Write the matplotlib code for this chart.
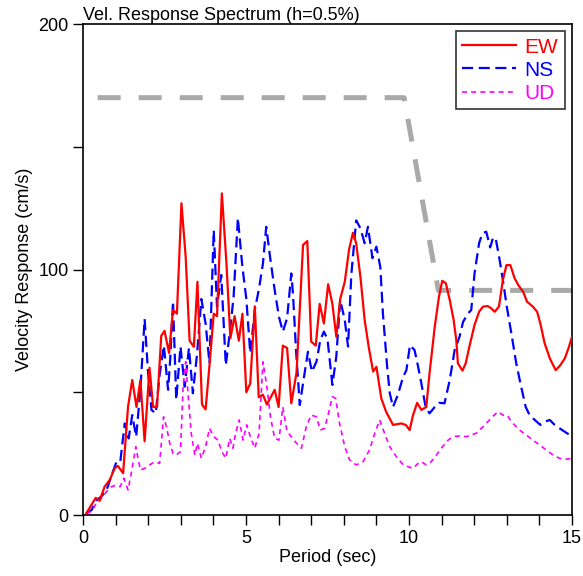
import matplotlib
matplotlib.use('Agg')
from matplotlib import pyplot as plt
from matplotlib.ticker import MultipleLocator

plt.rcParams['font.family'] = ['Liberation Sans', 'DejaVu Sans']

# EW component (period sec, velocity cm/s)
ew_t = [0.1, 0.39, 0.51, 0.66, 0.82, 0.97, 1.07, 1.23, 1.38, 1.51, 1.64, 1.76, 1.89,
        2.04, 2.15, 2.27, 2.40, 2.50, 2.64, 2.76, 2.88, 3.02, 3.15, 3.27, 3.40, 3.51,
        3.65, 3.76, 3.88, 4.01, 4.11, 4.26, 4.40, 4.52, 4.65, 4.78, 4.89, 5.01, 5.13,
        5.27, 5.39, 5.52, 5.64, 5.88, 6.0, 6.13, 6.26, 6.39, 6.55, 6.75, 6.88, 7.0,
        7.14, 7.26, 7.39, 7.52, 7.65, 7.77, 7.89, 8.03, 8.16, 8.28, 8.38, 8.51, 8.64,
        8.77, 8.90, 9.0, 9.15, 9.30, 9.51, 9.76, 9.90, 10.02, 10.12, 10.25, 10.38,
        10.53, 10.63, 10.79, 10.92, 11.02, 11.13, 11.25, 11.37, 11.45, 11.50, 11.64,
        11.74, 11.86, 12.01, 12.15, 12.27, 12.42, 12.52, 12.63, 12.76, 12.88, 12.99,
        13.11, 13.24, 13.37, 13.50, 13.62, 13.80, 13.93, 14.03, 14.16, 14.32, 14.5,
        14.64, 14.78, 14.91, 15.0]
ew_v = [0.7, 7, 5.8, 11.5, 14.3, 19, 20, 17, 44, 55, 44, 55, 30,
        60, 44, 44, 73, 75, 66, 83.5, 82, 127, 105, 71, 68.5, 95,
        45, 43, 61, 82, 81, 131, 102.5, 72, 81, 71, 82, 50, 53.6,
        85, 48, 49, 45, 51, 44, 69, 68, 45.5, 58, 110, 111.6, 70.6,
        69, 86, 78, 94, 86, 72.6, 88, 95, 108, 115, 110.7, 97, 79.4,
        68, 58.4, 60.4, 47.5, 42, 36.7, 37.3, 36.7, 34.6, 40.5, 45.7, 42.8,
        44, 57.7, 76.7, 89, 95.4, 94.4, 87.6, 79.4, 71.3, 61.8, 58.8,
        61.8, 69, 77.4, 82.8, 84.9, 85.1, 84.2, 82.8, 84.9, 95.7, 101.8,
        101.8, 96.4, 93.3, 91, 86.9, 84.9, 82.8, 78, 70, 63.8, 59,
        61, 63.8, 68.6, 72.6]

# NS component
ns_t = [0.1, 0.26, 0.41, 0.56, 0.72, 0.87, 1.02, 1.14, 1.28, 1.40, 1.51, 1.63, 1.76,
        1.89, 1.99, 2.1, 2.23, 2.35, 2.48, 2.61, 2.68, 2.76, 2.86, 2.99, 3.12, 3.25,
        3.37, 3.50, 3.63, 3.76, 3.88, 4.01, 4.11, 4.24, 4.38, 4.50, 4.62, 4.75, 4.89,
        5.01, 5.13, 5.27, 5.40, 5.52, 5.62, 5.75, 5.88, 6.01, 6.13, 6.26, 6.39, 6.44,
        6.54, 6.65, 6.78, 6.90, 7.02, 7.16, 7.28, 7.39, 7.50, 7.65, 7.77, 7.89, 8.03,
        8.13, 8.23, 8.38, 8.51, 8.64, 8.74, 8.88, 9.0, 9.12, 9.20, 9.33, 9.41, 9.51,
        9.66, 9.82, 9.92, 10.03, 10.17, 10.28, 10.38, 10.51, 10.63, 10.79, 10.92,
        11.09, 11.25, 11.40, 11.55, 11.66, 11.81, 11.91, 12.01, 12.15, 12.25, 12.37,
        12.49, 12.58, 12.66, 12.78, 12.88, 13.0, 13.14, 13.29, 13.44, 13.58, 13.70,
        13.86, 14.03, 14.16, 14.32, 14.47, 14.62, 14.78, 14.93, 15.0]
ns_v = [0.5, 2, 6, 7.5, 10, 16, 21.4, 21.4, 37.3, 31.2, 40.7, 31.9, 51,
        79.8, 59, 42.8, 41.4, 57, 69, 51, 64.5, 87, 47, 68.6, 52.3, 68,
        49.6, 65.9, 88, 78, 61.8, 116, 84.9, 97.8, 61, 74, 89, 121, 101,
        88, 66, 83.5, 92.3, 102.5, 117.4, 103.9, 91.6, 80.8, 74.7, 80.1, 98.4, 90.3,
        65.9, 44.8, 56.3, 66.5, 58.4, 62.4, 71.3, 74.7, 71.6, 53, 64.5, 87.6, 79.4,
        68.6, 97.8, 120, 116.8, 110.7, 117.4, 104.6, 109.3, 101, 82.1, 60.4, 49.6, 44,
        49, 56.3, 59, 69.2, 67.2, 60.4, 53.6, 44, 41.4, 44, 45.7,
        45.5, 55, 67.2, 72.6, 78.7, 82.1, 83.5, 98.4, 110.7, 114.7, 115.4,
        109, 113, 112.7, 103.9, 95.7, 84.9, 74, 61.8, 52.3, 44, 40.7,
        38.7, 36.7, 38, 38.7, 36.7, 35.3, 33.9, 32.6, 31.9]

# UD component
ud_t = [0.1, 0.26, 0.41, 0.56, 0.72, 0.87, 1.02, 1.14, 1.25, 1.38, 1.48, 1.62, 1.76,
        1.89, 2.04, 2.2, 2.35, 2.47, 2.56, 2.66, 2.76, 2.86, 2.99, 3.07, 3.15, 3.22,
        3.32, 3.43, 3.51, 3.63, 3.76, 3.88, 4.01, 4.14, 4.26, 4.38, 4.50, 4.60, 4.68,
        4.79, 4.91, 5.02, 5.13, 5.27, 5.40, 5.52, 5.64, 5.75, 5.88, 6.01, 6.13, 6.26,
        6.39, 6.55, 6.70, 6.85, 7.0, 7.16, 7.28, 7.41, 7.53, 7.65, 7.75, 7.87, 8.03,
        8.18, 8.38, 8.59, 8.79, 8.95, 9.10, 9.25, 9.41, 9.61, 9.82, 9.97, 10.12,
        10.28, 10.38, 10.53, 10.68, 10.84, 10.99, 11.20, 11.35, 11.55, 11.76, 11.91,
        12.06, 12.22, 12.37, 12.52, 12.73, 12.88, 13.0, 13.19, 13.39, 13.60, 13.80,
        14.01, 14.21, 14.42, 14.62, 14.82, 15.0]
ud_v = [0.5, 1.5, 4.8, 6.8, 9.5, 11.5, 12.2, 11.5, 15, 10.2, 17, 27.8, 18.3,
        19, 20.4, 21.7, 21, 40, 36, 29.2, 25.1, 24.4, 25.8, 52.3, 62.4, 49.6,
        33.3, 24.4, 29.2, 23.1, 27.8, 35.3, 31.9, 30.5, 25.8, 23.1, 31.2, 27.2, 33.3,
        38.7, 30.5, 36.7, 32, 27.2, 33.3, 62.4, 52.3, 40, 31.2, 30.5, 44, 34,
        31.9, 29.2, 27.2, 36, 40.7, 40, 34.6, 35.3, 41.4, 48.2, 47.5, 37.3, 27.8,
        22.4, 20.4, 21.7, 26.5, 33.3, 38.7, 33.3, 27.8, 23.8, 20.5, 19.7, 19,
        21, 21.7, 20.4, 21.7, 24.4, 27.2, 30.5, 31.9, 32.2, 31.9, 32.6,
        33.3, 35.3, 37.3, 39.5, 42.1, 40.7, 40.7, 37.3, 34.6, 32.6, 30.5,
        28.5, 26.5, 24.4, 23.1, 22.7, 23.1]

# design level (gray dashed)
lvl_t = [0.45, 9.85, 10.9, 15.0]
lvl_v = [170, 170, 91.5, 91.5]

fig = plt.figure(figsize=(5.83, 5.76), dpi=100)
ax = fig.add_axes([0.1424, 0.1059, 0.8387, 0.8524])

ax.plot(lvl_t, lvl_v, color='#a9a9a9', lw=3.6, dashes=(4.6, 3.6), zorder=1)
ax.plot(ew_t, ew_v, color='#ff0000', lw=1.6, label='EW', zorder=3)
ax.plot(ns_t, ns_v, color='#0000ff', lw=1.6, dashes=(5, 2.5), label='NS', zorder=2)
ax.plot(ud_t, ud_v, color='#ff00ff', lw=1.2, dashes=(3, 2.5), label='UD', zorder=2)

ax.set_xlim(0, 15)
ax.set_ylim(0, 200)
ax.xaxis.set_major_locator(MultipleLocator(5))
ax.xaxis.set_minor_locator(MultipleLocator(1))
ax.yaxis.set_major_locator(MultipleLocator(100))
ax.yaxis.set_minor_locator(MultipleLocator(50))
ax.tick_params(which='major', direction='out', length=7, width=1, labelsize=13)
ax.tick_params(which='minor', direction='out', length=7, width=1)
for s in ax.spines.values():
    s.set_linewidth(1.2)

ax.set_xlabel('Period (sec)', fontsize=13, labelpad=2)
ax.set_ylabel('Velocity Response (cm/s)', fontsize=13, labelpad=4)
ax.set_title('Vel. Response Spectrum (h=0.5%)', loc='left', fontsize=13, pad=2)

leg = ax.legend(loc='upper right', fontsize=15, handlelength=2.6, handletextpad=0.4,
                borderaxespad=0.35, labelspacing=0.2, fancybox=False, framealpha=1,
                borderpad=0.3)
leg.get_frame().set_edgecolor('#333333')
leg.get_frame().set_linewidth(1.2)
for txt, c in zip(leg.get_texts(), ['#ff0000', '#0000ff', '#ff00ff']):
    txt.set_color(c)

plt.savefig('out.png', dpi=100)
